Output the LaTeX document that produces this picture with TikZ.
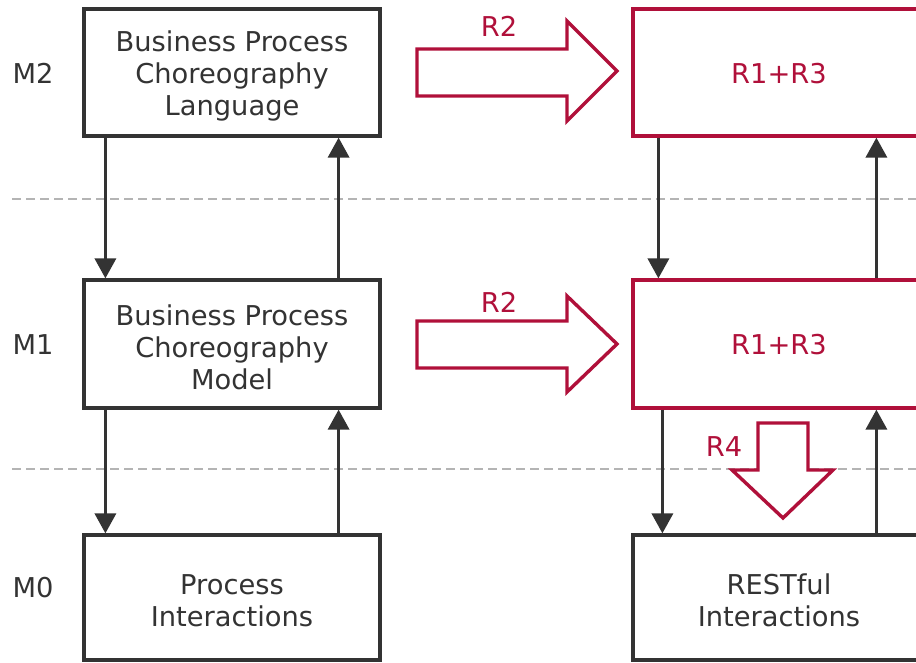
\documentclass[tikz,border=0pt]{standalone}
\usepackage{fontspec}
\setmainfont{DejaVu Sans}
\usetikzlibrary{arrows.meta}
\definecolor{dk}{HTML}{333333}
\definecolor{rd}{HTML}{B0103A}
\definecolor{gr}{HTML}{B4B4B4}
\tikzset{
  txt/.style={font=\fontsize{27.3}{32}\selectfont, text=dk, align=center},
  lbox/.style={draw=dk, line width=3.2pt, fill=white, minimum width=296pt, inner sep=0pt},
  rbox/.style={draw=rd, line width=3.2pt, fill=white, minimum width=292pt, inner sep=0pt},
  arr/.style={draw=dk, line width=3.4pt, -{Triangle[length=20pt,width=21pt]}},
  hollow/.style={draw=rd, line width=3.4pt, fill=white, line join=miter},
  rlab/.style={font=\fontsize{27.3}{32}\selectfont, text=rd},
  sep/.style={draw=gr, line width=2.2pt, dash pattern=on 9pt off 5pt}
}
\begin{document}
\begin{tikzpicture}[x=1pt,y=-1pt]
\useasboundingbox (0,0) rectangle (916,662);
\clip (0,0) rectangle (916,662);
% separators
\coordinate (s1a) at (12,199); \coordinate (s1b) at (916,199);
\coordinate (s2a) at (12,469); \coordinate (s2b) at (916,469);
\draw[sep] (s1a) -- (s1b);
\draw[sep] (s2a) -- (s2b);
% level labels
\node[txt] (lm2) at (33,73) {M2};
\node[txt] (lm1) at (33,345) {M1};
\node[txt] (lm0) at (33,588) {M0};
% left boxes
\node[lbox, minimum height=127pt] (m2) at (232,72.5) {};
\node[lbox, minimum height=128pt] (m1) at (232,344) {};
\node[lbox, minimum height=125pt] (m0) at (232,597.5) {};
\node[txt, yshift=-3pt] (m2t) at (m2.center) {Business Process\\Choreography\\Language};
\node[txt, yshift=-3pt] (m1t) at (m1.center) {Business Process\\Choreography\\Model};
\node[txt, yshift=-3pt] (m0t) at (m0.center) {Process\\Interactions};
% right boxes
\node[rbox, minimum height=127pt] (r2) at (779,72.5) {};
\node[rbox, minimum height=128pt] (r1) at (779,344) {};
\node[lbox, minimum width=292pt, minimum height=125pt] (r0) at (779,597.5) {};
\node[txt, text=rd, yshift=-1pt] (r2t) at (r2.center) {R1+R3};
\node[txt, text=rd, yshift=-1pt] (r1t) at (r1.center) {R1+R3};
\node[txt, yshift=-3pt] (r0t) at (r0.center) {RESTful\\Interactions};
% left connectors
\draw[arr] ([xshift=23pt]m2.south west) -- ([xshift=23pt]m1.north west);
\draw[arr] ([xshift=-43pt]m1.north east) -- ([xshift=-43pt]m2.south east);
\draw[arr] ([xshift=23pt]m1.south west) -- ([xshift=23pt]m0.north west);
\draw[arr] ([xshift=-43pt]m0.north east) -- ([xshift=-43pt]m1.south east);
% right connectors
\draw[arr] ([xshift=27pt]r2.south west) -- ([xshift=27pt]r1.north west);
\draw[arr] ([xshift=245pt]r1.north west) -- ([xshift=245pt]r2.south west);
\draw[arr] ([xshift=31pt]r1.south west) -- ([xshift=31pt]r0.north west);
\draw[arr] ([xshift=245pt]r0.north west) -- ([xshift=245pt]r1.south west);
% hollow arrows R2
\draw[hollow] (417,49) -- (567,49) -- (567,21) -- (617,71) -- (567,121) -- (567,96) -- (417,96) -- cycle;
\node[rlab] (t2a) at (499,26) {R2};
\draw[hollow] (417,321) -- (567,321) -- (567,296) -- (617,344) -- (567,392) -- (567,368) -- (417,368) -- cycle;
\node[rlab] (t2b) at (499,302) {R2};
% hollow arrow R4
\draw[hollow] (758,423) -- (808,423) -- (808,470) -- (833,470) -- (783,518) -- (732,470) -- (758,470) -- cycle;
\node[rlab] (t4) at (724,447) {R4};
\end{tikzpicture}
\end{document}
